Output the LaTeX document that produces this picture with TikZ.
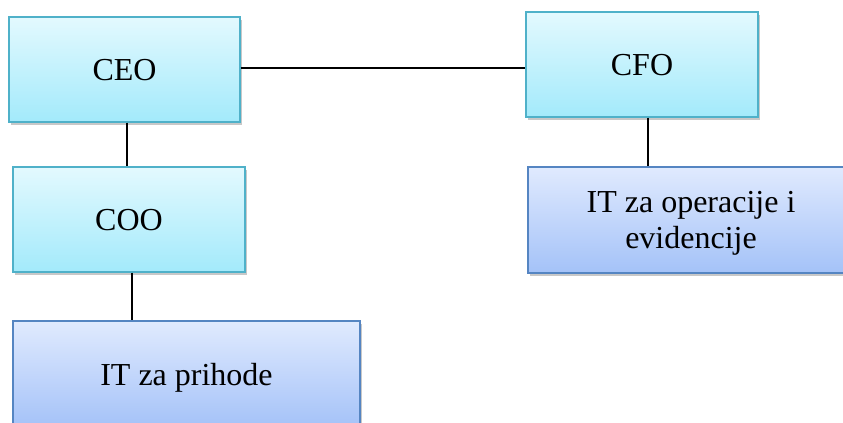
\documentclass[tikz,border=0pt]{standalone}
\usepackage{fontspec}
\setmainfont{Liberation Serif}
\usetikzlibrary{shadows}
\definecolor{cyanTop}{HTML}{E3F9FE}
\definecolor{cyanBot}{HTML}{A3EAFB}
\definecolor{cyanLine}{HTML}{4FB1C9}
\definecolor{blueTop}{HTML}{E0EAFE}
\definecolor{blueBot}{HTML}{A4C2F8}
\definecolor{blueLine}{HTML}{5585C2}
\definecolor{shadowGray}{HTML}{C8C8C8}
\tikzset{
  boxbase/.style={rectangle, inner sep=0pt, line width=1.1pt, align=center,
    font=\fontsize{24}{27.5}\selectfont, text depth=0pt,
    drop shadow={shadow xshift=1.5pt, shadow yshift=-2.2pt, fill=shadowGray, opacity=1}},
  cyanbox/.style={boxbase, draw=cyanLine, top color=cyanTop, bottom color=cyanBot},
  bluebox/.style={boxbase, draw=blueLine, top color=blueTop, bottom color=blueBot},
  conn/.style={draw=black, line width=1.25pt}
}
\begin{document}
\begin{tikzpicture}[x=0.75pt,y=-0.75pt]
\useasboundingbox (0,0) rectangle (843,423);
\clip (0,0) rectangle (843,423);
\node[cyanbox, minimum width=173.25pt, minimum height=78.75pt] (ceo) at (124.5,69.5) {CEO};
\node[cyanbox, minimum width=174pt, minimum height=78.75pt] (cfo) at (642,64.5) {CFO};
\node[cyanbox, minimum width=174pt, minimum height=78.75pt] (coo) at (129,219.5) {COO};
\node[bluebox, minimum width=244.5pt, minimum height=79.5pt] (itops) at (691,220) {IT za operacije i\\evidencije};
\node[bluebox, minimum width=260.25pt, minimum height=80.25pt] (itpri) at (186.5,374.5) {IT za prihode};
\draw[conn] (ceo.east |- 0,68) -- (cfo.west |- 0,68);
\draw[conn] (ceo.south -| 127,0) -- (coo.north -| 127,0);
\draw[conn] (cfo.south -| 648,0) -- (itops.north -| 648,0);
\draw[conn] (coo.south -| 132,0) -- (itpri.north -| 132,0);
\end{tikzpicture}
\end{document}
